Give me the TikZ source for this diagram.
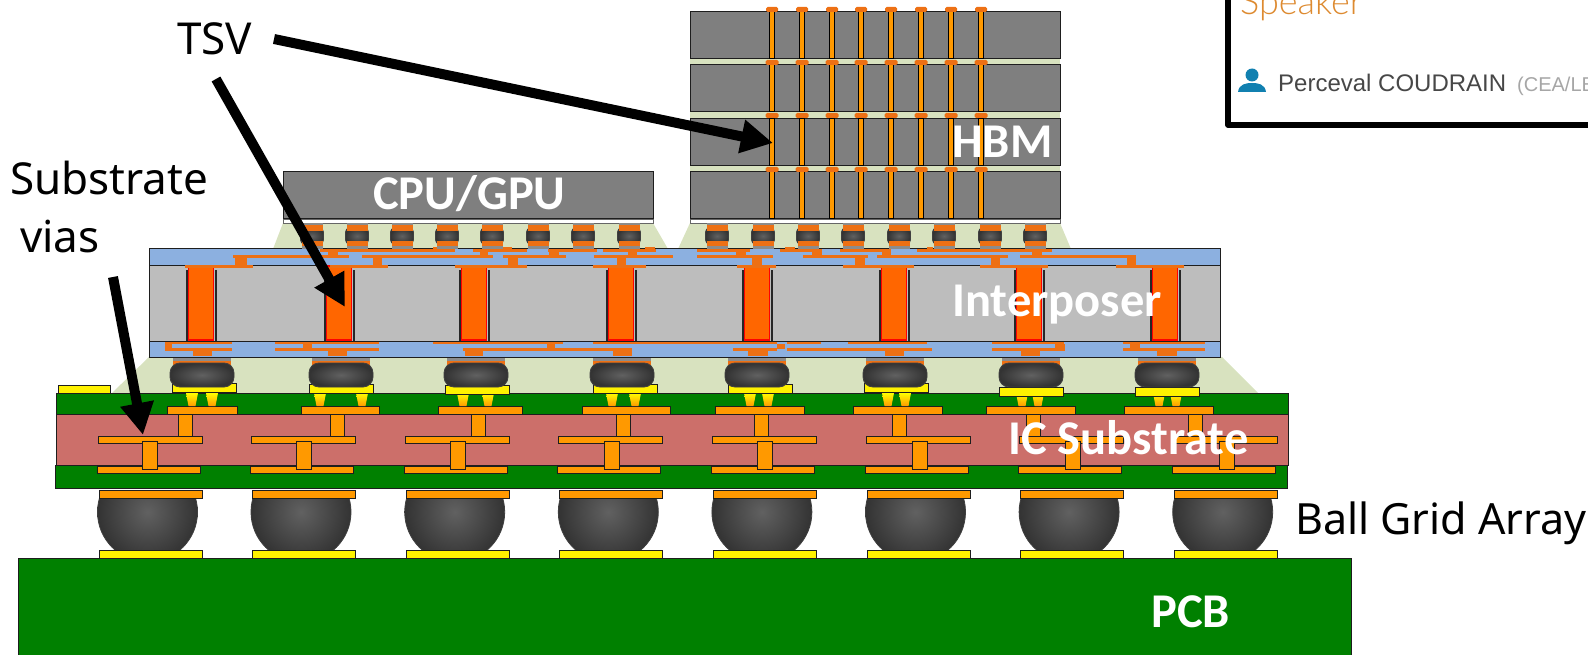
\documentclass[tikz,border=0pt]{standalone}
\usepackage{fontspec}
\setmainfont{Noto Sans}
\newfontfamily\slidefont{Carlito}
\newfontfamily\panelfont{Liberation Sans}
\newfontfamily\speakerfont{Lato Light}
\usetikzlibrary{arrows.meta}
\definecolor{pcbgreen}{HTML}{008000}
\definecolor{subred}{HTML}{CC6F6A}
\definecolor{padorange}{HTML}{FF9900}
\definecolor{tsvorange}{HTML}{FF6600}
\definecolor{rdlorange}{HTML}{ED7014}
\definecolor{rdlblue}{HTML}{8CB0E0}
\definecolor{siligray}{HTML}{BDBDBD}
\definecolor{diegray}{HTML}{7F7F7F}
\definecolor{palegreen}{HTML}{D8E2BF}
\definecolor{outline}{HTML}{1E1E1E}
\definecolor{personblue}{HTML}{1180B0}
\definecolor{speakerorange}{HTML}{DD8A30}
\tikzset{
  callout/.style={font=\fontsize{44}{50}\selectfont,inner sep=0pt,anchor=base west},
  slidetext/.style={font=\slidefont\bfseries\fontsize{48.5}{52}\selectfont,color=white,inner sep=0pt,anchor=base west},
  part/.style={draw=outline,line width=1pt},
  rdl/.style={fill=rdlorange},
  ball/.style={draw=black!75,line width=0.8pt,inner color=black!62,outer color=black!80},
  pointer/.style={->,line width=10pt}
}
\begin{document}
\begin{tikzpicture}[x=1pt,y=-1pt,>={Triangle[length=32pt,width=32pt]}]
\useasboundingbox (0,0) rectangle (1588,655);
% underfill
\fill[palegreen] (283,223)--(653,223)--(668,249)--(273,249)--cycle;
\fill[palegreen] (690,223)--(1060,223)--(1071,249)--(678,249)--cycle;
\fill[palegreen] (149,357)--(1222,357)--(1258,393)--(112,393)--cycle;
\fill[palegreen] (690,59) rectangle (1060,172);
% speaker panel
\draw[line width=5.5pt,line join=round] (1228,-10)--(1228,125)--(1600,125);
\node (speaker) at (1240,15) [inner sep=0pt,anchor=base west,color=speakerorange,font=\speakerfont\fontsize{36}{40}\selectfont] {Speaker};
\fill[personblue] (1252,75) circle[radius=6.5];
\fill[personblue] (1238,92) .. controls (1239,84) and (1246,83) .. (1252,83) .. controls (1258,83) and (1265,84) .. (1266,92) -- cycle;
\node (person) at (1278,92) [inner sep=0pt,anchor=base west,color=black!72,font=\panelfont\fontsize{24}{28}\selectfont] {Perceval COUDRAIN};
\node (lab) at (1517,92) [inner sep=0pt,anchor=base west,color=black!35,font=\panelfont\fontsize{20}{24}\selectfont] {(CEA/LE};
% PCB and ball grid
\fill[part,fill=pcbgreen] (18,558) rectangle (1351,660);
\foreach \x in {147.5,301,454.7,608.3,761.9,915.5,1069.1,1222.7} {
  \begin{scope}
  \clip ({\x-55},490) rectangle ({\x+55},552);
  \shade[ball] (\x,512) circle[radius=50];
  \end{scope}
  \fill[part,fill=padorange] ({\x-48.5},490) rectangle ({\x+54.5},498);
  \fill[part,fill=yellow] ({\x-48.5},550) rectangle ({\x+54.5},558);
}
% IC substrate
\fill[part,fill=pcbgreen] (56,393) rectangle (1288,414);
\fill[part,fill=pcbgreen] (55,465) rectangle (1287,488);
\fill[part,fill=subred] (56,414) rectangle (1288,465);
\fill[part,fill=yellow] (58,385) rectangle (110,393);
\foreach \x in {150,303.6,457.2,610.8,764.4,918,1071.6,1225.2} {
  \fill[part,fill=padorange] ({\x-52},436) rectangle ({\x+52},443);
  \fill[part,fill=padorange] ({\x-53},466) rectangle ({\x+50},473);
}
\foreach \x in {149.5,304,457.5,611.5,765,919.5,1073,1227} {
  \fill[part,fill=padorange] ({\x-7.5},441) rectangle ({\x+7.5},469);
}
% flip chip bumps
\foreach \b/\p/\t/\cl/\cr/\l/\r/\v in {
  202/204/383/192/212/167/237/185,
  341/341/384/320/362/301/379/337,
  476/477/385/463/488/438/522/478,
  622/625/384/612/635/582/670/623,
  757/760/384/750/768/715/804/761,
  895/896/383/888/905/853/942/899,
  1031/1031/387/1022/1038/986/1075/1033,
  1167/1167/387/1159/1176/1124/1213/1195} {
  \fill[part,fill=padorange] ({\v-7},414) rectangle ({\v+7},436);
  \fill[part,fill=padorange] (\l,406) rectangle (\r,414);
  \foreach \c in {\cl,\cr} {
    \shade[top color=yellow,bottom color=padorange] ({\c-6},393)--({\c+6},393)--({\c+3.5},406)--({\c-3.5},406)--cycle;
  }
  \fill[part,fill=yellow] ({\p-32},\t) rectangle ({\p+32},{\t+9});
  \fill[black!45] ({\b-29},357) rectangle ({\b+29},362);
  \fill[rdlorange] ({\b-29},361) rectangle ({\b+29},365);
  \shade[ball,rounded corners=10pt] ({\b-32},363) rectangle ({\b+32},387);
}
% interposer
\fill[part,fill=rdlblue] (149,249) rectangle (1220,266);
\fill[part,fill=rdlblue] (149,341) rectangle (1220,357);
\fill[part,fill=siligray] (149,266) rectangle (1220,341);
\foreach \x in {201,339,474,621,757,894,1029,1165} {
  \fill[black!85] ({\x-15.5},270) rectangle ({\x-13.5},341);
  \fill[black!85] ({\x+13.5},270) rectangle ({\x+15.5},341);
  \fill[draw=red,line width=1.2pt,fill=tsvorange] ({\x-12.5},266) rectangle ({\x+12.5},340);
}
\foreach \a/\b in {185/253,330/388,455/527,593/646,737/776,843/914,980/1048,1116/1184} {
  \fill[rdl] (\a,264.8) rectangle (\b,267.6);
}
\foreach \a/\b in {233/349,362/493,503/566,594/673,697/773,803/868,877/1008,1020/1136} {
  \fill[rdl] (\a,255.4) rectangle (\b,258);
}
\foreach \a/\b in {320/455,473/527,548/597,603/656,697/750,780/822,840/891,917/1052} {
  \fill[rdl] (\a,249) rectangle (\b,251.6);
}
\foreach \a/\b/\c/\d in {328/338/251/256,235/247/257/266,373/382/258/266,508/518/258/266,480/488/251/256,
  549/559/251/256,617/626/258/266,628/637/251/256,752/762/258/266,736/746/251/256,855/865/258/266,
  812/822/251/256,882/891/251/256,991/1000/258/266,1032/1042/251/256,1127/1136/257/266,
  433/452/247/249,503/512/247/249,645/655/247/249,785/795/247/249,927/933/247/249} {
  \fill[rdl] (\a,\c) rectangle (\b,\d);
}
\foreach \a/\b in {165/232,275/379,433/563,593/777,787/821,848/927,992/1064,1123/1205} {
  \fill[rdl] (\a,341.8) rectangle (\b,344.4);
}
\foreach \a/\b in {165/232,275/379,463/632,733/777,787/932,992/1065,1123/1205} {
  \fill[rdl] (\a,348.4) rectangle (\b,351);
}
\foreach \a/\b/\c/\d in {165/172/343/350,303/312/344/349,547/555/344/349,777/785/344/349,1055/1065/344/349,1130/1140/344/349,
  193/212/350/356,328/347/350/356,465/483/350/356,613/632/350/356,748/768/350/356,885/904/350/356,1021/1040/350/356,1157/1177/350/356} {
  \fill[rdl] (\a,\c) rectangle (\b,\d);
}
% CPU/GPU and HBM dies
\fill[part,fill=diegray] (283,172) rectangle (653,219);
\draw[line width=0.8pt,color=black!60,fill=white] (283,219) rectangle (653,223);
\foreach \y in {12,65,119,172} {
  \fill[part,fill=diegray] (690,\y) rectangle (1060,{\y+47});
}
\draw[line width=0.8pt,color=black!60,fill=white] (690,219) rectangle (1060,223);
\foreach \x in {772,802,832,861,891,921,951,981} {
  \foreach \y in {12,65,119,172} {
    \fill[draw=black,line width=1pt,fill=padorange] ({\x-2.7},\y) rectangle ({\x+2.7},{\y+47});
  }
  \fill[rdl,rounded corners=1.5pt] ({\x-6},7) rectangle ({\x+6},12);
  \foreach \y in {60,113,167} {
    \fill[rdl,rounded corners=1.5pt] ({\x-6.5},\y) rectangle ({\x+6.5},{\y+5});
  }
}
% micro bumps
\foreach \x in {312,357,402,447,492,538,583,629,717,763,808,853,899,944,990,1035} {
  \fill[black!45] ({\x-10.5},223) rectangle ({\x+10.5},249);
  \shade[ball,rounded corners=4pt] ({\x-11.5},228) rectangle ({\x+11.5},244);
  \fill[rdl] ({\x-10.5},225) rectangle ({\x+10.5},231);
  \fill[rdl] ({\x-10.5},241) rectangle ({\x+10.5},246);
}
% labels
\node (cpu) at (373,210) [slidetext] {CPU/GPU};
\node (hbm) at (952,158) [slidetext] {HBM};
\node (interposer) at (952,316) [slidetext] {Interposer};
\node (substrate) at (1008,454) [slidetext] {IC Substrate};
\node (pcb) at (1151,627) [slidetext] {PCB};
\node (tsv) at (177,55) [callout] {TSV};
\node (subvias) at (10,195) [callout] {Substrate};
\node (vias) at (20,252) [callout] {vias};
\node (bga) at (1295,534) [callout,font=\fontsize{43}{50}\selectfont] {Ball Grid Array};
% arrows
\coordinate (tsvtailA) at (274,39);
\coordinate (tsvtipA) at (773,143);
\coordinate (tsvtailB) at (216,79);
\coordinate (tsvtipB) at (345,307);
\coordinate (viatail) at (113,277);
\coordinate (viatip) at (143,435);
\draw[pointer] (tsvtailA) -- (tsvtipA);
\draw[pointer] (tsvtailB) -- (tsvtipB);
\draw[pointer] (viatail) -- (viatip);
\end{tikzpicture}
\end{document}
